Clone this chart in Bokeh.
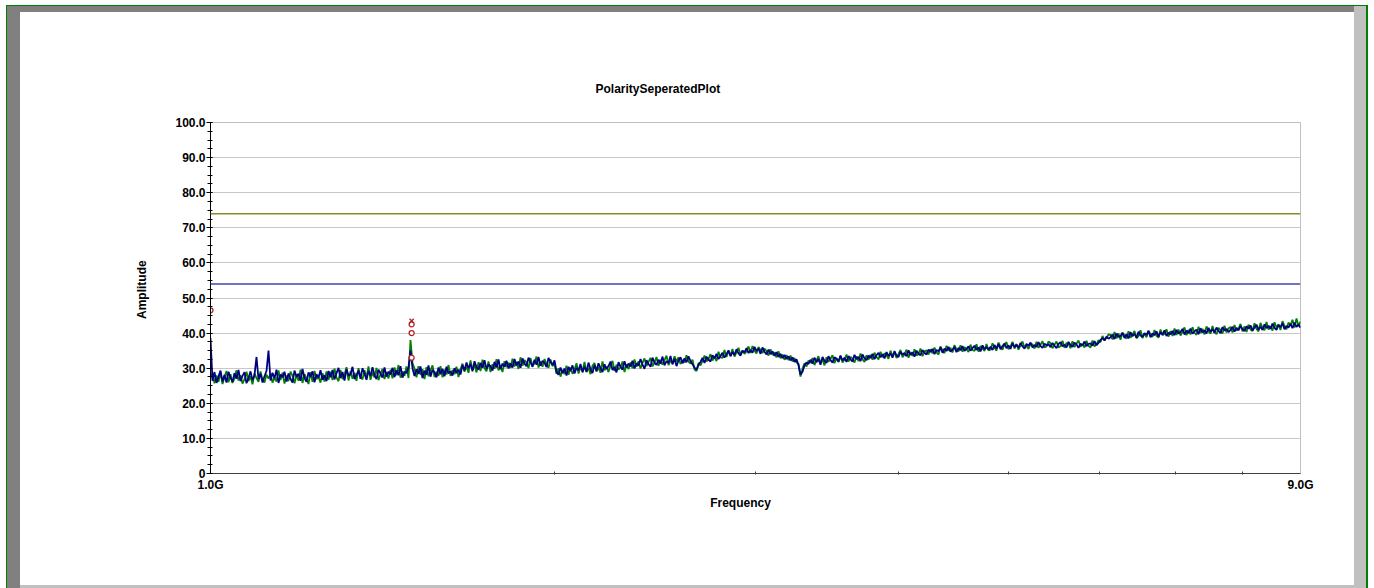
import numpy as np
from bokeh.plotting import figure
from bokeh.models import Range1d, FixedTicker, NumeralTickFormatter, Span, Title
from bokeh.embed import file_html
from bokeh.resources import INLINE

# ---- data -------------------------------------------------------------
f_start, f_stop = 1.0e9, 9.0e9

# Vertical-polarity trace (blue), one value per sweep point
amp_vertical = [
    38.5, 26.4, 28.9, 25.8, 27.6, 29.3, 26.2, 28.1, 25.9, 29.0, 27.3, 26.1, 28.6, 27.0, 29.5, 26.3, 27.8, 28.9, 25.7, 27.2, 29.1, 26.6, 28.0, 33.2, 26.9, 28.4, 25.9, 27.7, 29.2, 35.0,
    26.5, 28.7, 27.1, 29.6, 25.8, 28.2, 27.4, 29.0, 26.2, 28.5, 27.0, 25.9, 29.3, 27.6, 28.4, 26.4, 29.8, 27.2, 26.1, 28.8, 27.5, 29.1, 26.0, 28.3, 27.3, 29.4, 26.7, 28.0, 26.3, 29.2,
    27.4, 29.5, 26.8, 28.6, 30.1, 27.2, 28.9, 26.5, 29.7, 27.9, 28.3, 30.4, 26.9, 28.1, 29.3, 27.0, 30.0, 28.4, 26.7, 29.2, 27.8, 30.3, 28.0, 26.9, 29.6, 28.5, 27.3, 30.2, 27.6, 29.0,
    28.2, 30.1, 27.5, 29.4, 28.0, 30.6, 27.3, 29.0, 28.6, 30.3, 35.0, 30.0, 27.8, 29.7, 28.4, 30.5, 27.2, 29.3, 28.1, 30.8, 27.6, 29.5, 28.9, 27.4, 30.2, 28.3, 29.8, 27.7, 30.4, 28.5,
    29.1, 27.9, 30.0, 28.6, 29.6, 28.2, 30.9, 29.4, 31.6, 30.0, 31.2, 29.1, 32.0, 30.3, 29.6, 31.5, 30.1, 32.3, 29.8, 31.0, 30.6, 29.3, 31.8, 30.2, 32.5, 29.7, 31.3, 30.4, 32.1, 29.9,
    31.4, 30.2, 32.6, 30.8, 31.9, 30.1, 32.8, 31.3, 30.6, 33.0, 31.7, 30.4, 32.4, 31.0, 33.2, 30.7, 32.1, 31.5, 30.3, 32.9, 31.8, 30.9, 32.2, 29.0, 28.1, 30.2, 28.6, 29.9, 27.9, 30.4,
    29.2, 30.8, 28.5, 30.1, 29.4, 31.2, 28.8, 30.5, 29.0, 31.6, 29.7, 28.6, 30.9, 29.3, 31.4, 30.0, 28.9, 31.1, 29.8, 30.6, 31.9, 29.5, 30.3, 28.8, 31.7, 30.4, 29.6, 32.0, 30.2, 31.3,
    30.5, 32.1, 29.9, 31.4, 30.7, 32.6, 31.0, 29.8, 32.3, 31.2, 30.4, 33.0, 31.6, 30.9, 32.4, 31.3, 33.3, 30.8, 32.0, 31.5, 33.5, 31.1, 32.7, 30.6, 32.2, 33.1, 31.4, 32.8, 31.7, 33.4,
    32.0, 31.1, 30.2, 29.6, 30.9, 31.8, 32.9, 31.5, 33.3, 32.4, 31.9, 33.7, 32.8, 34.1, 32.6, 33.5, 34.4, 33.0, 34.0, 35.1, 33.4, 34.6, 33.8, 35.4, 34.2, 33.6, 35.0, 34.5, 35.7, 34.3,
    35.2, 34.4, 36.1, 34.9, 35.6, 34.1, 35.9, 34.7, 33.9, 35.3, 34.0, 34.8, 33.5, 34.6, 33.2, 34.1, 32.9, 33.8, 32.6, 33.4, 32.2, 33.1, 31.8, 32.5, 30.9, 28.2, 29.0, 30.8, 31.6, 31.2,
    32.4, 31.3, 33.0, 31.7, 32.6, 31.0, 33.2, 32.1, 31.5, 33.4, 32.3, 31.6, 33.1, 32.7, 31.9, 33.6, 32.2, 33.0, 31.8, 33.5, 32.5, 31.9, 33.8, 32.6, 33.2, 32.0, 33.9, 32.8, 32.3, 33.6,
    32.9, 34.1, 32.6, 33.7, 34.4, 33.1, 34.0, 32.8, 34.6, 33.5, 34.2, 33.0, 34.9, 33.6, 33.2, 34.7, 33.9, 34.3, 33.4, 35.1, 33.8, 34.5, 33.3, 35.0, 34.1, 33.7, 35.2, 34.4, 33.9, 35.3,
    34.6, 35.5, 34.0, 35.2, 34.8, 35.9, 34.4, 35.6, 34.9, 36.1, 34.7, 35.3, 36.0, 34.6, 35.8, 35.1, 36.3, 34.9, 35.5, 36.2, 35.0, 35.7, 36.4, 35.2, 35.9, 34.8, 36.5, 35.4, 36.0, 35.3,
    36.1, 35.2, 36.6, 35.6, 36.9, 35.4, 36.3, 37.0, 35.7, 36.5, 35.5, 37.1, 36.0, 36.7, 35.8, 37.2, 36.2, 35.6, 36.9, 36.4, 37.3, 35.9, 36.6, 36.1, 37.4, 36.3, 35.8, 37.0, 36.5, 36.8,
    36.0, 37.2, 36.4, 35.7, 36.9, 37.4, 36.2, 36.7, 35.9, 37.5, 36.6, 36.1, 37.3, 36.8, 35.8, 37.0, 36.5, 37.6, 36.3, 36.9, 37.1, 36.4, 37.7, 36.6, 37.2, 38.0, 38.6, 37.9, 39.0, 38.4,
    38.8, 39.6, 38.3, 39.9, 38.9, 39.2, 40.1, 38.6, 39.7, 38.5, 40.3, 39.1, 39.8, 38.7, 40.4, 39.3, 38.9, 40.0, 39.5, 40.6, 38.8, 39.9, 39.4, 40.5, 39.0, 40.2, 39.6, 40.8, 39.2, 40.1,
    39.7, 40.6, 39.4, 40.9, 39.9, 40.3, 41.2, 39.6, 40.7, 40.0, 41.3, 39.8, 40.5, 41.0, 39.7, 41.4, 40.2, 40.8, 39.9, 41.5, 40.4, 41.1, 40.1, 41.6, 40.6, 40.0, 41.7, 40.7, 41.2, 40.3,
    40.9, 41.8, 40.4, 41.5, 40.8, 42.0, 41.1, 40.6, 41.9, 41.3, 42.2, 40.7, 41.6, 42.4, 41.0, 41.8, 40.9, 42.5, 41.4, 42.1, 41.2, 42.7, 41.5, 40.9, 42.3, 41.7, 42.8, 41.1, 42.0, 41.6,
    42.6, 41.4, 43.0, 41.8, 42.4, 41.5,
]

# Horizontal-polarity trace (green)
amp_horizontal = [
    27.2, 28.6, 25.7, 27.9, 26.1, 28.8, 25.5, 27.4, 29.2, 26.0, 28.3, 25.8, 27.1, 29.4, 26.5, 28.0, 25.6, 26.9, 29.0, 26.3, 27.7, 25.4, 28.5, 27.2, 26.1, 29.1, 26.8, 25.9, 28.2, 27.0,
    28.4, 25.9, 27.3, 26.2, 29.4, 26.6, 28.7, 25.6, 27.9, 26.3, 29.0, 27.8, 25.7, 28.1, 26.4, 29.6, 25.8, 28.3, 27.0, 25.5, 28.9, 26.1, 29.2, 26.9, 27.6, 25.9, 28.6, 26.2, 29.1, 26.7,
    29.0, 26.6, 29.9, 27.3, 26.3, 29.5, 26.9, 28.2, 30.3, 26.5, 29.1, 27.0, 28.7, 26.4, 30.0, 27.6, 26.8, 29.4, 27.2, 30.5, 26.7, 28.8, 27.4, 30.1, 26.6, 28.3, 29.8, 26.9, 28.9, 27.1,
    29.6, 27.1, 30.2, 28.0, 30.9, 27.3, 29.1, 27.8, 30.5, 27.2, 38.0, 31.5, 29.9, 27.4, 30.6, 28.1, 29.7, 26.9, 30.3, 27.7, 29.4, 30.8, 27.5, 29.0, 27.8, 30.6, 27.4, 29.6, 28.2, 30.9,
    27.8, 29.5, 28.3, 30.4, 27.5, 29.7, 31.3, 29.0, 30.5, 28.7, 32.2, 29.6, 30.9, 28.8, 31.7, 29.2, 32.4, 30.0, 29.1, 31.9, 28.9, 31.1, 29.8, 32.6, 29.4, 30.6, 28.9, 32.0, 30.3, 31.6,
    30.1, 32.7, 30.5, 31.8, 29.8, 33.1, 30.7, 32.3, 31.6, 30.0, 32.9, 30.6, 31.4, 33.3, 30.2, 31.9, 30.4, 32.6, 31.2, 30.1, 32.5, 30.6, 31.3, 28.4, 30.0, 27.6, 29.5, 28.3, 30.7, 28.1,
    30.2, 28.4, 29.6, 31.4, 28.5, 30.3, 29.2, 31.8, 28.9, 30.1, 28.3, 30.7, 31.5, 29.0, 30.2, 28.7, 31.9, 29.4, 30.4, 28.9, 30.8, 32.1, 29.2, 31.0, 29.6, 30.2, 31.9, 28.9, 31.1, 29.7,
    31.6, 30.0, 32.5, 30.4, 32.0, 29.9, 31.5, 32.8, 30.6, 31.8, 32.9, 30.5, 31.6, 33.2, 30.7, 32.4, 31.0, 32.3, 33.6, 30.9, 32.2, 31.4, 33.4, 31.9, 33.1, 31.2, 32.3, 31.6, 33.7, 31.9,
    31.3, 32.4, 29.6, 29.2, 31.5, 30.8, 32.1, 33.6, 31.9, 32.6, 34.0, 32.2, 33.3, 32.0, 34.7, 33.1, 32.9, 35.2, 33.2, 34.9, 33.6, 35.5, 33.3, 34.5, 35.8, 33.9, 35.0, 34.1, 34.8, 36.2,
    34.3, 36.3, 35.0, 34.2, 36.0, 35.2, 34.3, 35.6, 34.9, 33.6, 35.4, 33.8, 34.5, 33.1, 34.8, 32.8, 33.9, 32.4, 33.7, 32.3, 33.6, 31.9, 32.9, 31.6, 31.2, 27.6, 29.8, 31.4, 30.5, 32.2,
    31.5, 32.9, 30.9, 32.3, 33.4, 31.5, 32.5, 30.8, 33.1, 31.8, 32.7, 33.7, 31.4, 32.9, 31.7, 33.5, 31.6, 32.4, 33.9, 31.9, 33.2, 32.8, 31.6, 33.4, 32.0, 34.2, 32.5, 31.8, 33.7, 32.4,
    33.8, 32.4, 34.4, 33.2, 32.5, 34.7, 33.1, 34.2, 33.7, 32.7, 35.0, 33.4, 34.6, 32.9, 34.1, 35.2, 33.1, 33.9, 35.3, 33.0, 34.6, 33.5, 35.4, 33.6, 34.0, 35.6, 33.4, 34.8, 35.1, 33.9,
    35.4, 34.2, 35.9, 34.5, 33.9, 36.2, 35.1, 34.3, 36.4, 35.0, 35.8, 34.5, 36.6, 35.3, 34.8, 36.5, 34.7, 36.0, 35.5, 34.6, 36.7, 35.2, 34.9, 36.8, 34.7, 36.3, 35.6, 34.9, 36.9, 35.1,
    35.3, 37.1, 35.9, 35.0, 37.3, 36.0, 35.3, 36.8, 37.4, 35.4, 36.2, 37.5, 35.6, 36.9, 35.3, 36.6, 37.6, 35.9, 36.3, 35.5, 37.0, 36.8, 35.6, 37.5, 35.8, 36.7, 37.7, 35.9, 36.2, 37.6,
    37.1, 35.7, 36.7, 37.6, 35.9, 36.3, 37.8, 35.8, 37.2, 36.9, 35.7, 37.7, 36.0, 37.0, 37.9, 36.1, 36.8, 35.9, 37.8, 36.4, 35.9, 37.9, 36.2, 36.8, 38.0, 37.4, 39.2, 38.0, 38.7, 39.6,
    39.5, 38.2, 40.3, 38.5, 39.9, 38.1, 40.1, 39.4, 38.4, 40.5, 38.7, 39.6, 40.6, 38.5, 39.2, 40.8, 38.6, 39.9, 38.8, 40.7, 39.7, 38.9, 40.9, 39.2, 38.7, 41.0, 39.4, 39.8, 41.1, 39.0,
    40.6, 39.2, 41.3, 39.5, 41.0, 39.3, 40.4, 41.6, 39.4, 40.9, 39.6, 41.7, 40.1, 39.5, 41.8, 40.0, 41.2, 39.6, 41.9, 40.5, 39.8, 42.0, 40.3, 39.7, 41.5, 40.9, 39.9, 42.1, 40.2, 41.4,
    41.7, 40.2, 42.3, 40.7, 41.3, 42.6, 40.5, 41.9, 40.3, 42.4, 41.0, 40.6, 42.8, 41.2, 40.5, 42.9, 41.5, 40.8, 43.2, 41.0, 42.0, 40.7, 43.1, 41.6, 42.5, 40.9, 43.4, 42.0, 41.1, 43.0,
    42.2, 43.8, 41.6, 44.2, 42.0, 43.3,
]

# sweep points, evenly spaced on the logarithmic frequency axis
freq_v = np.geomspace(f_start, f_stop, len(amp_vertical))
freq_h = np.geomspace(f_start, f_stop, len(amp_horizontal))

# limit lines
limit_peak = 74.0
limit_avg = 54.0

# measured peaks (circles) and the max-hold marker (cross)
peak_freq = [1.0e9, 1.5e9, 1.5e9, 1.5e9]
peak_amp = [46.5, 33.0, 40.0, 42.5]
max_freq = [1.5e9]
max_amp = [43.5]

y_ticks = [0, 10, 20, 30, 40, 50, 60, 70, 80, 90, 100]
x_ticks = [1.0e9, 9.0e9]
x_tick_labels = {1.0e9: "1.0G", 9.0e9: "9.0G"}
x_minor = [2e9, 3e9, 4e9, 5e9, 6e9, 7e9, 8e9]

# ---- layout -------------------------------------------------------------
W, H = 1374, 588
FONT = "Liberation Sans"
NB = "\u00a0"

p = figure(width=W, height=H, x_axis_type="log", output_backend="svg",
           toolbar_location=None, x_range=Range1d(f_start, f_stop),
           y_range=Range1d(0, 100))
p.min_border_left = 210
p.min_border_right = 74
p.min_border_top = 122
p.min_border_bottom = 115
p.background_fill_color = "white"
p.border_fill_color = None
p.outline_line_color = "#c0c0c0"

# sunken window frame drawn around the canvas
p.styles = {
    "background-color": "white",
    "box-shadow": ", ".join([
        "inset 6px 5px 0 0 #ffffff",
        "inset -6px 0 0 0 #ffffff",
        "inset 7px 6px 0 0 #008000",
        "inset -8px 0 0 0 #008000",
        "inset -20px 0 0 0 #c0c0c0",
        "inset 20px 12px 0 0 #808080",
        "inset 0 -3px 0 0 #c0c0c0",
    ]),
}

# title, lifted above the frame by an empty spacer row
p.title.text = ""
p.add_layout(Title(text=NB, text_font_size="9px"), "above")
p.add_layout(Title(text="PolaritySeperatedPlot", align="left", offset=385,
                   text_font=FONT, text_font_style="bold", text_font_size="12px",
                   text_color="black"), "above")

# y axis
ya = p.yaxis[0]
ya.ticker = FixedTicker(ticks=y_ticks, minor_ticks=[v * 2.5 for v in range(41)])
ya.formatter = NumeralTickFormatter(format="0.0")
ya.major_label_overrides = {0: "0"}
ya.major_label_text_font = FONT
ya.major_label_text_font_style = "bold"
ya.major_label_text_font_size = "12px"
ya.major_label_text_color = "black"
ya.major_label_standoff = 1
ya.major_tick_out = 4
ya.major_tick_in = 2
ya.minor_tick_out = 3
ya.minor_tick_in = 2
ya.axis_line_color = "black"
ya.major_tick_line_color = "black"
ya.minor_tick_line_color = "black"
ya.axis_label = NB * 5 + "Amplitude"
ya.axis_label_standoff = 23
ya.axis_label_text_font = FONT
ya.axis_label_text_font_style = "bold"
ya.axis_label_text_font_size = "12px"
ya.axis_label_text_color = "black"

# x axis
xa = p.xaxis[0]
xa.ticker = FixedTicker(ticks=x_ticks, minor_ticks=x_minor)
xa.major_label_overrides = x_tick_labels
xa.major_label_text_font = FONT
xa.major_label_text_font_style = "bold"
xa.major_label_text_font_size = "12px"
xa.major_label_text_color = "black"
xa.major_label_standoff = 3
xa.major_tick_out = 0
xa.major_tick_in = 0
xa.minor_tick_out = 1
xa.minor_tick_in = 2
xa.axis_line_color = "#404040"
xa.minor_tick_line_color = "#404040"
xa.axis_label = "Frequency" + NB * 9
xa.axis_label_standoff = 1
xa.axis_label_text_font = FONT
xa.axis_label_text_font_style = "bold"
xa.axis_label_text_font_size = "12px"
xa.axis_label_text_color = "black"

p.xgrid.visible = False
p.ygrid.grid_line_color = "#c8c8c8"
p.ygrid.grid_line_width = 1

# limit lines
p.add_layout(Span(location=limit_peak, dimension="width", line_color="#8a8a2a", line_width=1.5))
p.add_layout(Span(location=limit_avg, dimension="width", line_color="#4444b0", line_width=1.5))

# traces
p.line(freq_h, amp_horizontal, line_color="#008000", line_width=1.8)
p.line(freq_v, amp_vertical, line_color="#000080", line_width=1.8)

# peak markers
p.scatter(peak_freq, peak_amp, marker="circle", size=5, fill_color="white",
          line_color="#b02020", line_width=1.3)
p.scatter(max_freq, max_amp, marker="x", size=6, line_color="#b02020", line_width=1.3)

open("out.html", "w").write(file_html(p, INLINE))
